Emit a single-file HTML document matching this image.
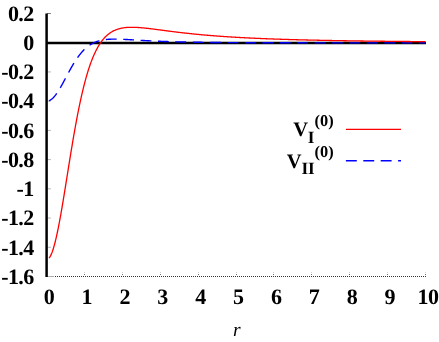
<!DOCTYPE html>
<html><head><meta charset="utf-8"><title>plot</title>
<style>
html,body{margin:0;padding:0;background:#fff;}
body{width:439px;height:342px;overflow:hidden;position:relative;font-family:"Liberation Serif",serif;}
svg{position:absolute;left:0;top:0;display:block;}
text{text-rendering:geometricPrecision;}
.tl{position:absolute;left:0;top:0;width:439px;height:342px;will-change:transform;filter:grayscale(1);}
text{font-family:"Liberation Serif",serif;fill:#000;}
.b{font-weight:bold;font-size:20.5px;}
.a{font-weight:bold;font-size:22px;letter-spacing:-0.6px;}
.s{font-weight:bold;font-size:17.2px;}
.p{font-weight:bold;font-size:16.4px;}
</style></head><body>
<svg width="439" height="342" viewBox="0 0 439 342" >
<rect x="0" y="0" width="439" height="342" fill="#fff"/>
<line x1="47" y1="276.5" x2="426" y2="276.5" stroke="#333" stroke-width="1" stroke-dasharray="1,1" shape-rendering="crispEdges"/>
<rect x="48" y="276" width="6" height="1" fill="#a8a8a8" shape-rendering="crispEdges"/>
<rect x="84" y="274" width="1" height="1" fill="#777" shape-rendering="crispEdges"/><rect x="84" y="272" width="1" height="1" fill="#d0d0d0" shape-rendering="crispEdges"/>
<rect x="122" y="274" width="1" height="1" fill="#777" shape-rendering="crispEdges"/><rect x="122" y="272" width="1" height="1" fill="#d0d0d0" shape-rendering="crispEdges"/>
<rect x="160" y="274" width="1" height="1" fill="#777" shape-rendering="crispEdges"/><rect x="160" y="272" width="1" height="1" fill="#d0d0d0" shape-rendering="crispEdges"/>
<rect x="198" y="274" width="1" height="1" fill="#777" shape-rendering="crispEdges"/><rect x="198" y="272" width="1" height="1" fill="#d0d0d0" shape-rendering="crispEdges"/>
<rect x="236" y="274" width="1" height="1" fill="#777" shape-rendering="crispEdges"/><rect x="236" y="272" width="1" height="1" fill="#d0d0d0" shape-rendering="crispEdges"/>
<rect x="273" y="274" width="1" height="1" fill="#777" shape-rendering="crispEdges"/><rect x="273" y="272" width="1" height="1" fill="#d0d0d0" shape-rendering="crispEdges"/>
<rect x="311" y="274" width="1" height="1" fill="#777" shape-rendering="crispEdges"/><rect x="311" y="272" width="1" height="1" fill="#d0d0d0" shape-rendering="crispEdges"/>
<rect x="349" y="274" width="1" height="1" fill="#777" shape-rendering="crispEdges"/><rect x="349" y="272" width="1" height="1" fill="#d0d0d0" shape-rendering="crispEdges"/>
<rect x="387" y="274" width="1" height="1" fill="#777" shape-rendering="crispEdges"/><rect x="387" y="272" width="1" height="1" fill="#d0d0d0" shape-rendering="crispEdges"/>
<rect x="425" y="274" width="1" height="1" fill="#777" shape-rendering="crispEdges"/><rect x="425" y="272" width="1" height="1" fill="#d0d0d0" shape-rendering="crispEdges"/>
<line x1="47" y1="13.50" x2="50.9" y2="13.50" stroke="#777" stroke-width="1"/>
<line x1="47" y1="42.72" x2="50.9" y2="42.72" stroke="#b4b4b4" stroke-width="1"/>
<line x1="47" y1="71.94" x2="50.9" y2="71.94" stroke="#b4b4b4" stroke-width="1"/>
<line x1="47" y1="101.16" x2="50.9" y2="101.16" stroke="#b4b4b4" stroke-width="1"/>
<line x1="47" y1="130.38" x2="50.9" y2="130.38" stroke="#b4b4b4" stroke-width="1"/>
<line x1="47" y1="159.60" x2="50.9" y2="159.60" stroke="#b4b4b4" stroke-width="1"/>
<line x1="47" y1="188.82" x2="50.9" y2="188.82" stroke="#b4b4b4" stroke-width="1"/>
<line x1="47" y1="218.04" x2="50.9" y2="218.04" stroke="#b4b4b4" stroke-width="1"/>
<line x1="47" y1="247.26" x2="50.9" y2="247.26" stroke="#b4b4b4" stroke-width="1"/>
<line x1="47" y1="276.48" x2="50.9" y2="276.48" stroke="#b4b4b4" stroke-width="1"/>
<line x1="46" y1="42.90" x2="426" y2="42.90" stroke="#000" stroke-width="2.5"/>
<line x1="46.6" y1="13.4" x2="46.6" y2="276.9" stroke="#000" stroke-width="2.5"/>
<path d="M48.97,100.68 L49.44,100.49 L49.91,100.26 L50.38,100.00 L50.86,99.70 L51.33,99.37 L51.80,99.00 L52.27,98.61 L52.74,98.18 L53.21,97.72 L53.68,97.23 L54.15,96.71 L54.62,96.17 L55.09,95.59 L55.56,94.99 L56.03,94.37 L56.50,93.72 L56.97,93.05 L57.44,92.35 L57.92,91.64 L58.39,90.90 L58.86,90.15 L59.33,89.38 L59.80,88.59 L60.27,87.79 L60.74,86.98 L61.21,86.15 L61.68,85.32 L62.15,84.47 L62.62,83.62 L63.09,82.75 L63.56,81.88 L64.03,81.01 L64.50,80.13 L64.98,79.25 L65.45,78.36 L65.92,77.48 L66.39,76.60 L66.86,75.71 L67.33,74.83 L67.80,73.95 L68.27,73.08 L68.74,72.21 L69.21,71.35 L69.68,70.49 L70.15,69.64 L70.62,68.79 L71.09,67.96 L71.56,67.13 L72.04,66.32 L72.51,65.51 L72.98,64.72 L73.45,63.93 L73.92,63.16 L74.39,62.40 L74.86,61.65 L75.33,60.92 L75.80,60.20 L76.27,59.49 L76.74,58.79 L77.21,58.11 L77.68,57.44 L78.15,56.79 L78.62,56.15 L79.09,55.52 L79.57,54.91 L80.04,54.32 L80.51,53.73 L80.98,53.17 L81.45,52.61 L81.92,52.07 L82.39,51.55 L82.86,51.04 L83.33,50.54 L83.80,50.06 L84.27,49.59 L84.74,49.14 L85.21,48.70 L85.68,48.27 L86.15,47.85 L86.63,47.45 L87.10,47.07 L87.57,46.69 L88.04,46.33 L88.51,45.98 L88.98,45.64 L89.45,45.31 L89.92,45.00 L90.39,44.69 L90.86,44.40 L91.33,44.12 L91.80,43.85 L92.27,43.59 L92.74,43.34 L93.21,43.10 L93.69,42.87 L94.16,42.65 L94.63,42.44 L95.10,42.23 L95.57,42.04 L96.04,41.85 L96.51,41.68 L96.98,41.51 L97.45,41.35 L97.92,41.19 L98.39,41.05 L98.86,40.91 L99.33,40.78 L99.80,40.65 L100.27,40.53 L100.75,40.42 L101.22,40.31 L101.69,40.21 L102.16,40.12 L102.63,40.03 L103.10,39.94 L103.57,39.86 L104.04,39.79 L104.51,39.72 L104.98,39.66 L105.45,39.60 L105.92,39.54 L106.39,39.49 L106.86,39.44 L107.33,39.40 L107.81,39.36 L108.28,39.32 L108.75,39.29 L109.22,39.26 L109.69,39.23 L110.16,39.20 L110.63,39.18 L111.10,39.16 L111.57,39.15 L112.04,39.14 L112.51,39.12 L112.98,39.12 L113.45,39.11 L113.92,39.11 L114.39,39.10 L114.87,39.10 L115.34,39.10 L115.81,39.11 L116.28,39.11 L116.75,39.12 L117.22,39.13 L117.69,39.14 L118.16,39.15 L118.63,39.16 L119.10,39.17 L119.57,39.19 L120.04,39.20 L120.51,39.22 L120.98,39.24 L121.45,39.25 L121.92,39.27 L122.40,39.29 L122.87,39.31 L123.34,39.34 L123.81,39.36 L124.28,39.38 L124.75,39.40 L125.22,39.43 L125.69,39.45 L126.16,39.48 L126.63,39.50 L127.10,39.53 L127.57,39.55 L128.04,39.58 L128.51,39.61 L128.98,39.64 L129.46,39.66 L129.93,39.69 L130.40,39.72 L130.87,39.75 L131.34,39.77 L131.81,39.80 L132.28,39.83 L132.75,39.86 L133.22,39.89 L133.69,39.91 L134.16,39.94 L134.63,39.97 L135.10,40.00 L135.57,40.03 L136.04,40.06 L136.52,40.09 L136.99,40.11 L137.46,40.14 L137.93,40.17 L138.40,40.20 L138.87,40.23 L139.34,40.25 L139.81,40.28 L140.28,40.31 L140.75,40.34 L141.22,40.36 L141.69,40.39 L142.16,40.42 L142.63,40.44 L143.10,40.47 L143.58,40.50 L144.05,40.52 L144.52,40.55 L144.99,40.58 L145.46,40.60 L145.93,40.63 L146.40,40.65 L146.87,40.68 L147.34,40.70 L147.81,40.73 L148.28,40.75 L148.75,40.78 L149.22,40.80 L149.69,40.83 L150.16,40.85 L150.64,40.87 L151.11,40.90 L151.58,40.92 L152.05,40.94 L152.52,40.96 L152.99,40.99 L153.46,41.01 L153.93,41.03 L154.40,41.05 L154.87,41.07 L155.34,41.10 L155.81,41.12 L156.28,41.14 L156.75,41.16 L157.22,41.18 L157.70,41.20 L158.17,41.22 L158.64,41.24 L159.11,41.26 L159.58,41.28 L160.05,41.30 L160.52,41.31 L160.99,41.33 L161.46,41.35 L161.93,41.37 L162.40,41.39 L162.87,41.41 L163.34,41.42 L163.81,41.44 L164.28,41.46 L164.75,41.47 L165.23,41.49 L165.70,41.51 L166.17,41.52 L166.64,41.54 L167.11,41.56 L167.58,41.57 L168.05,41.59 L168.52,41.60 L168.99,41.62 L169.46,41.63 L169.93,41.65 L170.40,41.66 L170.87,41.68 L171.34,41.69 L171.81,41.71 L172.29,41.72 L172.76,41.73 L173.23,41.75 L173.70,41.76 L174.17,41.78 L174.64,41.79 L175.11,41.80 L175.58,41.81 L176.05,41.83 L176.52,41.84 L176.99,41.85 L177.46,41.86 L177.93,41.88 L178.40,41.89 L178.87,41.90 L179.35,41.91 L179.82,41.92 L180.29,41.93 L180.76,41.95 L181.23,41.96 L181.70,41.97 L182.17,41.98 L182.64,41.99 L183.11,42.00 L183.58,42.01 L184.05,42.02 L184.52,42.03 L184.99,42.04 L185.46,42.05 L185.93,42.06 L186.41,42.07 L186.88,42.08 L187.35,42.09 L187.82,42.10 L188.29,42.11 L188.76,42.12 L189.23,42.13 L189.70,42.13 L190.17,42.14 L190.64,42.15 L191.11,42.16 L191.58,42.17 L192.05,42.18 L192.52,42.18 L192.99,42.19 L193.47,42.20 L193.94,42.21 L194.41,42.22 L194.88,42.22 L195.35,42.23 L195.82,42.24 L196.29,42.25 L196.76,42.25 L197.23,42.26 L197.70,42.27 L198.17,42.27 L198.64,42.28 L199.11,42.29 L199.58,42.30 L200.05,42.30 L200.52,42.31 L201.00,42.32 L201.47,42.32 L201.94,42.33 L202.41,42.33 L202.88,42.34 L203.35,42.35 L203.82,42.35 L204.29,42.36 L204.76,42.36 L205.23,42.37 L205.70,42.38 L206.17,42.38 L206.64,42.39 L207.11,42.39 L207.58,42.40 L208.06,42.40 L208.53,42.41 L209.00,42.41 L209.47,42.42 L209.94,42.42 L210.41,42.43 L210.88,42.43 L211.35,42.44 L211.82,42.44 L212.29,42.45 L212.76,42.45 L213.23,42.46 L213.70,42.46 L214.17,42.47 L214.64,42.47 L215.12,42.48 L215.59,42.48 L216.06,42.49 L216.53,42.49 L217.00,42.49 L217.47,42.50 L217.94,42.50 L218.41,42.51 L218.88,42.51 L219.35,42.52 L219.82,42.52 L220.29,42.52 L220.76,42.53 L221.23,42.53 L221.70,42.54 L222.18,42.54 L222.65,42.54 L223.12,42.55 L223.59,42.55 L224.06,42.55 L224.53,42.56 L225.00,42.56 L225.47,42.56 L225.94,42.57 L226.41,42.57 L226.88,42.57 L227.35,42.58 L227.82,42.58 L228.29,42.58 L228.76,42.59 L229.24,42.59 L229.71,42.59 L230.18,42.60 L230.65,42.60 L231.12,42.60 L231.59,42.61 L232.06,42.61 L232.53,42.61 L233.00,42.61 L233.47,42.62 L233.94,42.62 L234.41,42.62 L234.88,42.63 L235.35,42.63 L235.82,42.63 L236.30,42.63 L236.77,42.64 L237.24,42.64 L237.71,42.64 L238.18,42.64 L238.65,42.65 L239.12,42.65 L239.59,42.65 L240.06,42.65 L240.53,42.66 L241.00,42.66 L241.47,42.66 L241.94,42.66 L242.41,42.66 L242.88,42.67 L243.35,42.67 L243.83,42.67 L244.30,42.67 L244.77,42.68 L245.24,42.68 L245.71,42.68 L246.18,42.68 L246.65,42.68 L247.12,42.69 L247.59,42.69 L248.06,42.69 L248.53,42.69 L249.00,42.69 L249.47,42.70 L249.94,42.70 L250.41,42.70 L250.89,42.70 L251.36,42.70 L251.83,42.71 L252.30,42.71 L252.77,42.71 L253.24,42.71 L253.71,42.71 L254.18,42.71 L254.65,42.72 L255.12,42.72 L255.59,42.72 L256.06,42.72 L256.53,42.72 L257.00,42.72 L257.47,42.73 L257.95,42.73 L258.42,42.73 L258.89,42.73 L259.36,42.73 L259.83,42.73 L260.30,42.74 L260.77,42.74 L261.24,42.74 L261.71,42.74 L262.18,42.74 L262.65,42.74 L263.12,42.74 L263.59,42.75 L264.06,42.75 L264.53,42.75 L265.01,42.75 L265.48,42.75 L265.95,42.75 L266.42,42.75 L266.89,42.75 L267.36,42.76 L267.83,42.76 L268.30,42.76 L268.77,42.76 L269.24,42.76 L269.71,42.76 L270.18,42.76 L270.65,42.76 L271.12,42.77 L271.59,42.77 L272.07,42.77 L272.54,42.77 L273.01,42.77 L273.48,42.77 L273.95,42.77 L274.42,42.77 L274.89,42.77 L275.36,42.78 L275.83,42.78 L276.30,42.78 L276.77,42.78 L277.24,42.78 L277.71,42.78 L278.18,42.78 L278.65,42.78 L279.13,42.78 L279.60,42.78 L280.07,42.79 L280.54,42.79 L281.01,42.79 L281.48,42.79 L281.95,42.79 L282.42,42.79 L282.89,42.79 L283.36,42.79 L283.83,42.79 L284.30,42.79 L284.77,42.80 L285.24,42.80 L285.71,42.80 L286.18,42.80 L286.66,42.80 L287.13,42.80 L287.60,42.80 L288.07,42.80 L288.54,42.80 L289.01,42.80 L289.48,42.80 L289.95,42.80 L290.42,42.81 L290.89,42.81 L291.36,42.81 L291.83,42.81 L292.30,42.81 L292.77,42.81 L293.24,42.81 L293.72,42.81 L294.19,42.81 L294.66,42.81 L295.13,42.81 L295.60,42.81 L296.07,42.81 L296.54,42.81 L297.01,42.82 L297.48,42.82 L297.95,42.82 L298.42,42.82 L298.89,42.82 L299.36,42.82 L299.83,42.82 L300.30,42.82 L300.78,42.82 L301.25,42.82 L301.72,42.82 L302.19,42.82 L302.66,42.82 L303.13,42.82 L303.60,42.82 L304.07,42.82 L304.54,42.83 L305.01,42.83 L305.48,42.83 L305.95,42.83 L306.42,42.83 L306.89,42.83 L307.36,42.83 L307.84,42.83 L308.31,42.83 L308.78,42.83 L309.25,42.83 L309.72,42.83 L310.19,42.83 L310.66,42.83 L311.13,42.83 L311.60,42.83 L312.07,42.83 L312.54,42.83 L313.01,42.83 L313.48,42.84 L313.95,42.84 L314.42,42.84 L314.90,42.84 L315.37,42.84 L315.84,42.84 L316.31,42.84 L316.78,42.84 L317.25,42.84 L317.72,42.84 L318.19,42.84 L318.66,42.84 L319.13,42.84 L319.60,42.84 L320.07,42.84 L320.54,42.84 L321.01,42.84 L321.48,42.84 L321.96,42.84 L322.43,42.84 L322.90,42.84 L323.37,42.84 L323.84,42.85 L324.31,42.85 L324.78,42.85 L325.25,42.85 L325.72,42.85 L326.19,42.85 L326.66,42.85 L327.13,42.85 L327.60,42.85 L328.07,42.85 L328.54,42.85 L329.01,42.85 L329.49,42.85 L329.96,42.85 L330.43,42.85 L330.90,42.85 L331.37,42.85 L331.84,42.85 L332.31,42.85 L332.78,42.85 L333.25,42.85 L333.72,42.85 L334.19,42.85 L334.66,42.85 L335.13,42.85 L335.60,42.85 L336.07,42.85 L336.55,42.85 L337.02,42.86 L337.49,42.86 L337.96,42.86 L338.43,42.86 L338.90,42.86 L339.37,42.86 L339.84,42.86 L340.31,42.86 L340.78,42.86 L341.25,42.86 L341.72,42.86 L342.19,42.86 L342.66,42.86 L343.13,42.86 L343.61,42.86 L344.08,42.86 L344.55,42.86 L345.02,42.86 L345.49,42.86 L345.96,42.86 L346.43,42.86 L346.90,42.86 L347.37,42.86 L347.84,42.86 L348.31,42.86 L348.78,42.86 L349.25,42.86 L349.72,42.86 L350.19,42.86 L350.67,42.86 L351.14,42.86 L351.61,42.86 L352.08,42.86 L352.55,42.86 L353.02,42.86 L353.49,42.86 L353.96,42.87 L354.43,42.87 L354.90,42.87 L355.37,42.87 L355.84,42.87 L356.31,42.87 L356.78,42.87 L357.25,42.87 L357.73,42.87 L358.20,42.87 L358.67,42.87 L359.14,42.87 L359.61,42.87 L360.08,42.87 L360.55,42.87 L361.02,42.87 L361.49,42.87 L361.96,42.87 L362.43,42.87 L362.90,42.87 L363.37,42.87 L363.84,42.87 L364.31,42.87 L364.78,42.87 L365.26,42.87 L365.73,42.87 L366.20,42.87 L366.67,42.87 L367.14,42.87 L367.61,42.87 L368.08,42.87 L368.55,42.87 L369.02,42.87 L369.49,42.87 L369.96,42.87 L370.43,42.87 L370.90,42.87 L371.37,42.87 L371.84,42.87 L372.32,42.87 L372.79,42.87 L373.26,42.87 L373.73,42.87 L374.20,42.87 L374.67,42.87 L375.14,42.87 L375.61,42.87 L376.08,42.87 L376.55,42.87 L377.02,42.87 L377.49,42.87 L377.96,42.88 L378.43,42.88 L378.90,42.88 L379.38,42.88 L379.85,42.88 L380.32,42.88 L380.79,42.88 L381.26,42.88 L381.73,42.88 L382.20,42.88 L382.67,42.88 L383.14,42.88 L383.61,42.88 L384.08,42.88 L384.55,42.88 L385.02,42.88 L385.49,42.88 L385.96,42.88 L386.44,42.88 L386.91,42.88 L387.38,42.88 L387.85,42.88 L388.32,42.88 L388.79,42.88 L389.26,42.88 L389.73,42.88 L390.20,42.88 L390.67,42.88 L391.14,42.88 L391.61,42.88 L392.08,42.88 L392.55,42.88 L393.02,42.88 L393.50,42.88 L393.97,42.88 L394.44,42.88 L394.91,42.88 L395.38,42.88 L395.85,42.88 L396.32,42.88 L396.79,42.88 L397.26,42.88 L397.73,42.88 L398.20,42.88 L398.67,42.88 L399.14,42.88 L399.61,42.88 L400.08,42.88 L400.56,42.88 L401.03,42.88 L401.50,42.88 L401.97,42.88 L402.44,42.88 L402.91,42.88 L403.38,42.88 L403.85,42.88 L404.32,42.88 L404.79,42.88 L405.26,42.88 L405.73,42.88 L406.20,42.88 L406.67,42.88 L407.14,42.88 L407.61,42.88 L408.09,42.88 L408.56,42.88 L409.03,42.88 L409.50,42.88 L409.97,42.88 L410.44,42.88 L410.91,42.88 L411.38,42.88 L411.85,42.88 L412.32,42.88 L412.79,42.88 L413.26,42.88 L413.73,42.88 L414.20,42.88 L414.67,42.88 L415.15,42.88 L415.62,42.88 L416.09,42.88 L416.56,42.88 L417.03,42.88 L417.50,42.88 L417.97,42.88 L418.44,42.89 L418.91,42.89 L419.38,42.89 L419.85,42.89 L420.32,42.89 L420.79,42.89 L421.26,42.89 L421.73,42.89 L422.21,42.89 L422.68,42.89 L423.15,42.89 L423.62,42.89 L424.09,42.89 L424.56,42.89 L425.03,42.89 L425.50,42.89" fill="none" stroke="#00f" stroke-width="1.4" stroke-dasharray="10.8,6.6"/>
<path d="M48.97,258.22 L49.44,257.62 L49.91,256.91 L50.38,256.09 L50.86,255.16 L51.33,254.13 L51.80,252.99 L52.27,251.75 L52.74,250.41 L53.21,248.97 L53.68,247.43 L54.15,245.80 L54.62,244.08 L55.09,242.27 L55.56,240.38 L56.03,238.40 L56.50,236.34 L56.97,234.21 L57.44,232.00 L57.92,229.72 L58.39,227.38 L58.86,224.97 L59.33,222.50 L59.80,219.98 L60.27,217.40 L60.74,214.77 L61.21,212.10 L61.68,209.39 L62.15,206.64 L62.62,203.85 L63.09,201.03 L63.56,198.18 L64.03,195.31 L64.50,192.42 L64.98,189.51 L65.45,186.58 L65.92,183.65 L66.39,180.70 L66.86,177.75 L67.33,174.80 L67.80,171.85 L68.27,168.91 L68.74,165.96 L69.21,163.03 L69.68,160.11 L70.15,157.21 L70.62,154.32 L71.09,151.45 L71.56,148.60 L72.04,145.77 L72.51,142.97 L72.98,140.19 L73.45,137.44 L73.92,134.73 L74.39,132.04 L74.86,129.38 L75.33,126.76 L75.80,124.18 L76.27,121.63 L76.74,119.11 L77.21,116.64 L77.68,114.20 L78.15,111.80 L78.62,109.45 L79.09,107.13 L79.57,104.86 L80.04,102.62 L80.51,100.43 L80.98,98.28 L81.45,96.17 L81.92,94.10 L82.39,92.08 L82.86,90.10 L83.33,88.16 L83.80,86.26 L84.27,84.41 L84.74,82.59 L85.21,80.82 L85.68,79.09 L86.15,77.40 L86.63,75.75 L87.10,74.14 L87.57,72.57 L88.04,71.04 L88.51,69.55 L88.98,68.09 L89.45,66.68 L89.92,65.30 L90.39,63.96 L90.86,62.65 L91.33,61.38 L91.80,60.15 L92.27,58.95 L92.74,57.78 L93.21,56.65 L93.69,55.55 L94.16,54.48 L94.63,53.44 L95.10,52.43 L95.57,51.46 L96.04,50.51 L96.51,49.59 L96.98,48.70 L97.45,47.84 L97.92,47.00 L98.39,46.19 L98.86,45.41 L99.33,44.65 L99.80,43.91 L100.27,43.20 L100.75,42.52 L101.22,41.85 L101.69,41.21 L102.16,40.59 L102.63,39.99 L103.10,39.41 L103.57,38.86 L104.04,38.32 L104.51,37.80 L104.98,37.30 L105.45,36.81 L105.92,36.35 L106.39,35.90 L106.86,35.47 L107.33,35.05 L107.81,34.65 L108.28,34.27 L108.75,33.90 L109.22,33.54 L109.69,33.20 L110.16,32.87 L110.63,32.56 L111.10,32.26 L111.57,31.97 L112.04,31.69 L112.51,31.42 L112.98,31.17 L113.45,30.93 L113.92,30.70 L114.39,30.47 L114.87,30.26 L115.34,30.06 L115.81,29.87 L116.28,29.68 L116.75,29.51 L117.22,29.34 L117.69,29.19 L118.16,29.04 L118.63,28.90 L119.10,28.76 L119.57,28.64 L120.04,28.52 L120.51,28.40 L120.98,28.30 L121.45,28.20 L121.92,28.10 L122.40,28.02 L122.87,27.94 L123.34,27.86 L123.81,27.79 L124.28,27.73 L124.75,27.67 L125.22,27.61 L125.69,27.56 L126.16,27.52 L126.63,27.47 L127.10,27.44 L127.57,27.41 L128.04,27.38 L128.51,27.35 L128.98,27.33 L129.46,27.31 L129.93,27.30 L130.40,27.29 L130.87,27.28 L131.34,27.28 L131.81,27.28 L132.28,27.28 L132.75,27.28 L133.22,27.29 L133.69,27.30 L134.16,27.31 L134.63,27.33 L135.10,27.34 L135.57,27.36 L136.04,27.38 L136.52,27.41 L136.99,27.43 L137.46,27.46 L137.93,27.49 L138.40,27.52 L138.87,27.55 L139.34,27.59 L139.81,27.62 L140.28,27.66 L140.75,27.70 L141.22,27.74 L141.69,27.78 L142.16,27.82 L142.63,27.87 L143.10,27.91 L143.58,27.96 L144.05,28.00 L144.52,28.05 L144.99,28.10 L145.46,28.15 L145.93,28.20 L146.40,28.25 L146.87,28.31 L147.34,28.36 L147.81,28.41 L148.28,28.47 L148.75,28.52 L149.22,28.58 L149.69,28.63 L150.16,28.69 L150.64,28.75 L151.11,28.80 L151.58,28.86 L152.05,28.92 L152.52,28.98 L152.99,29.04 L153.46,29.10 L153.93,29.16 L154.40,29.22 L154.87,29.28 L155.34,29.34 L155.81,29.40 L156.28,29.46 L156.75,29.52 L157.22,29.58 L157.70,29.64 L158.17,29.71 L158.64,29.77 L159.11,29.83 L159.58,29.89 L160.05,29.95 L160.52,30.01 L160.99,30.08 L161.46,30.14 L161.93,30.20 L162.40,30.26 L162.87,30.32 L163.34,30.39 L163.81,30.45 L164.28,30.51 L164.75,30.57 L165.23,30.63 L165.70,30.69 L166.17,30.76 L166.64,30.82 L167.11,30.88 L167.58,30.94 L168.05,31.00 L168.52,31.06 L168.99,31.12 L169.46,31.18 L169.93,31.24 L170.40,31.30 L170.87,31.36 L171.34,31.42 L171.81,31.48 L172.29,31.54 L172.76,31.60 L173.23,31.66 L173.70,31.72 L174.17,31.78 L174.64,31.83 L175.11,31.89 L175.58,31.95 L176.05,32.01 L176.52,32.07 L176.99,32.12 L177.46,32.18 L177.93,32.24 L178.40,32.29 L178.87,32.35 L179.35,32.40 L179.82,32.46 L180.29,32.52 L180.76,32.57 L181.23,32.63 L181.70,32.68 L182.17,32.73 L182.64,32.79 L183.11,32.84 L183.58,32.90 L184.05,32.95 L184.52,33.00 L184.99,33.06 L185.46,33.11 L185.93,33.16 L186.41,33.21 L186.88,33.26 L187.35,33.32 L187.82,33.37 L188.29,33.42 L188.76,33.47 L189.23,33.52 L189.70,33.57 L190.17,33.62 L190.64,33.67 L191.11,33.72 L191.58,33.77 L192.05,33.82 L192.52,33.86 L192.99,33.91 L193.47,33.96 L193.94,34.01 L194.41,34.06 L194.88,34.10 L195.35,34.15 L195.82,34.20 L196.29,34.24 L196.76,34.29 L197.23,34.33 L197.70,34.38 L198.17,34.42 L198.64,34.47 L199.11,34.51 L199.58,34.56 L200.05,34.60 L200.52,34.65 L201.00,34.69 L201.47,34.73 L201.94,34.78 L202.41,34.82 L202.88,34.86 L203.35,34.90 L203.82,34.95 L204.29,34.99 L204.76,35.03 L205.23,35.07 L205.70,35.11 L206.17,35.15 L206.64,35.19 L207.11,35.23 L207.58,35.27 L208.06,35.31 L208.53,35.35 L209.00,35.39 L209.47,35.43 L209.94,35.47 L210.41,35.51 L210.88,35.55 L211.35,35.59 L211.82,35.62 L212.29,35.66 L212.76,35.70 L213.23,35.74 L213.70,35.77 L214.17,35.81 L214.64,35.85 L215.12,35.88 L215.59,35.92 L216.06,35.95 L216.53,35.99 L217.00,36.03 L217.47,36.06 L217.94,36.10 L218.41,36.13 L218.88,36.17 L219.35,36.20 L219.82,36.23 L220.29,36.27 L220.76,36.30 L221.23,36.33 L221.70,36.37 L222.18,36.40 L222.65,36.43 L223.12,36.47 L223.59,36.50 L224.06,36.53 L224.53,36.56 L225.00,36.59 L225.47,36.63 L225.94,36.66 L226.41,36.69 L226.88,36.72 L227.35,36.75 L227.82,36.78 L228.29,36.81 L228.76,36.84 L229.24,36.87 L229.71,36.90 L230.18,36.93 L230.65,36.96 L231.12,36.99 L231.59,37.02 L232.06,37.05 L232.53,37.08 L233.00,37.11 L233.47,37.13 L233.94,37.16 L234.41,37.19 L234.88,37.22 L235.35,37.25 L235.82,37.27 L236.30,37.30 L236.77,37.33 L237.24,37.36 L237.71,37.38 L238.18,37.41 L238.65,37.44 L239.12,37.46 L239.59,37.49 L240.06,37.51 L240.53,37.54 L241.00,37.57 L241.47,37.59 L241.94,37.62 L242.41,37.64 L242.88,37.67 L243.35,37.69 L243.83,37.72 L244.30,37.74 L244.77,37.77 L245.24,37.79 L245.71,37.81 L246.18,37.84 L246.65,37.86 L247.12,37.89 L247.59,37.91 L248.06,37.93 L248.53,37.96 L249.00,37.98 L249.47,38.00 L249.94,38.02 L250.41,38.05 L250.89,38.07 L251.36,38.09 L251.83,38.11 L252.30,38.14 L252.77,38.16 L253.24,38.18 L253.71,38.20 L254.18,38.22 L254.65,38.25 L255.12,38.27 L255.59,38.29 L256.06,38.31 L256.53,38.33 L257.00,38.35 L257.47,38.37 L257.95,38.39 L258.42,38.41 L258.89,38.43 L259.36,38.45 L259.83,38.47 L260.30,38.49 L260.77,38.51 L261.24,38.53 L261.71,38.55 L262.18,38.57 L262.65,38.59 L263.12,38.61 L263.59,38.63 L264.06,38.65 L264.53,38.67 L265.01,38.69 L265.48,38.71 L265.95,38.73 L266.42,38.74 L266.89,38.76 L267.36,38.78 L267.83,38.80 L268.30,38.82 L268.77,38.83 L269.24,38.85 L269.71,38.87 L270.18,38.89 L270.65,38.91 L271.12,38.92 L271.59,38.94 L272.07,38.96 L272.54,38.97 L273.01,38.99 L273.48,39.01 L273.95,39.03 L274.42,39.04 L274.89,39.06 L275.36,39.08 L275.83,39.09 L276.30,39.11 L276.77,39.12 L277.24,39.14 L277.71,39.16 L278.18,39.17 L278.65,39.19 L279.13,39.21 L279.60,39.22 L280.07,39.24 L280.54,39.25 L281.01,39.27 L281.48,39.28 L281.95,39.30 L282.42,39.31 L282.89,39.33 L283.36,39.34 L283.83,39.36 L284.30,39.37 L284.77,39.39 L285.24,39.40 L285.71,39.42 L286.18,39.43 L286.66,39.45 L287.13,39.46 L287.60,39.47 L288.07,39.49 L288.54,39.50 L289.01,39.52 L289.48,39.53 L289.95,39.55 L290.42,39.56 L290.89,39.57 L291.36,39.59 L291.83,39.60 L292.30,39.61 L292.77,39.63 L293.24,39.64 L293.72,39.65 L294.19,39.67 L294.66,39.68 L295.13,39.69 L295.60,39.71 L296.07,39.72 L296.54,39.73 L297.01,39.74 L297.48,39.76 L297.95,39.77 L298.42,39.78 L298.89,39.80 L299.36,39.81 L299.83,39.82 L300.30,39.83 L300.78,39.84 L301.25,39.86 L301.72,39.87 L302.19,39.88 L302.66,39.89 L303.13,39.90 L303.60,39.92 L304.07,39.93 L304.54,39.94 L305.01,39.95 L305.48,39.96 L305.95,39.97 L306.42,39.99 L306.89,40.00 L307.36,40.01 L307.84,40.02 L308.31,40.03 L308.78,40.04 L309.25,40.05 L309.72,40.06 L310.19,40.08 L310.66,40.09 L311.13,40.10 L311.60,40.11 L312.07,40.12 L312.54,40.13 L313.01,40.14 L313.48,40.15 L313.95,40.16 L314.42,40.17 L314.90,40.18 L315.37,40.19 L315.84,40.20 L316.31,40.21 L316.78,40.22 L317.25,40.23 L317.72,40.24 L318.19,40.25 L318.66,40.26 L319.13,40.27 L319.60,40.28 L320.07,40.29 L320.54,40.30 L321.01,40.31 L321.48,40.32 L321.96,40.33 L322.43,40.34 L322.90,40.35 L323.37,40.36 L323.84,40.37 L324.31,40.38 L324.78,40.39 L325.25,40.40 L325.72,40.41 L326.19,40.42 L326.66,40.43 L327.13,40.44 L327.60,40.44 L328.07,40.45 L328.54,40.46 L329.01,40.47 L329.49,40.48 L329.96,40.49 L330.43,40.50 L330.90,40.51 L331.37,40.52 L331.84,40.52 L332.31,40.53 L332.78,40.54 L333.25,40.55 L333.72,40.56 L334.19,40.57 L334.66,40.58 L335.13,40.58 L335.60,40.59 L336.07,40.60 L336.55,40.61 L337.02,40.62 L337.49,40.63 L337.96,40.63 L338.43,40.64 L338.90,40.65 L339.37,40.66 L339.84,40.67 L340.31,40.67 L340.78,40.68 L341.25,40.69 L341.72,40.70 L342.19,40.70 L342.66,40.71 L343.13,40.72 L343.61,40.73 L344.08,40.74 L344.55,40.74 L345.02,40.75 L345.49,40.76 L345.96,40.77 L346.43,40.77 L346.90,40.78 L347.37,40.79 L347.84,40.80 L348.31,40.80 L348.78,40.81 L349.25,40.82 L349.72,40.82 L350.19,40.83 L350.67,40.84 L351.14,40.85 L351.61,40.85 L352.08,40.86 L352.55,40.87 L353.02,40.87 L353.49,40.88 L353.96,40.89 L354.43,40.89 L354.90,40.90 L355.37,40.91 L355.84,40.91 L356.31,40.92 L356.78,40.93 L357.25,40.94 L357.73,40.94 L358.20,40.95 L358.67,40.95 L359.14,40.96 L359.61,40.97 L360.08,40.97 L360.55,40.98 L361.02,40.99 L361.49,40.99 L361.96,41.00 L362.43,41.01 L362.90,41.01 L363.37,41.02 L363.84,41.03 L364.31,41.03 L364.78,41.04 L365.26,41.04 L365.73,41.05 L366.20,41.06 L366.67,41.06 L367.14,41.07 L367.61,41.07 L368.08,41.08 L368.55,41.09 L369.02,41.09 L369.49,41.10 L369.96,41.10 L370.43,41.11 L370.90,41.12 L371.37,41.12 L371.84,41.13 L372.32,41.13 L372.79,41.14 L373.26,41.14 L373.73,41.15 L374.20,41.16 L374.67,41.16 L375.14,41.17 L375.61,41.17 L376.08,41.18 L376.55,41.18 L377.02,41.19 L377.49,41.19 L377.96,41.20 L378.43,41.21 L378.90,41.21 L379.38,41.22 L379.85,41.22 L380.32,41.23 L380.79,41.23 L381.26,41.24 L381.73,41.24 L382.20,41.25 L382.67,41.25 L383.14,41.26 L383.61,41.26 L384.08,41.27 L384.55,41.27 L385.02,41.28 L385.49,41.28 L385.96,41.29 L386.44,41.29 L386.91,41.30 L387.38,41.30 L387.85,41.31 L388.32,41.31 L388.79,41.32 L389.26,41.32 L389.73,41.33 L390.20,41.33 L390.67,41.34 L391.14,41.34 L391.61,41.35 L392.08,41.35 L392.55,41.36 L393.02,41.36 L393.50,41.37 L393.97,41.37 L394.44,41.38 L394.91,41.38 L395.38,41.39 L395.85,41.39 L396.32,41.40 L396.79,41.40 L397.26,41.40 L397.73,41.41 L398.20,41.41 L398.67,41.42 L399.14,41.42 L399.61,41.43 L400.08,41.43 L400.56,41.44 L401.03,41.44 L401.50,41.45 L401.97,41.45 L402.44,41.45 L402.91,41.46 L403.38,41.46 L403.85,41.47 L404.32,41.47 L404.79,41.48 L405.26,41.48 L405.73,41.48 L406.20,41.49 L406.67,41.49 L407.14,41.50 L407.61,41.50 L408.09,41.50 L408.56,41.51 L409.03,41.51 L409.50,41.52 L409.97,41.52 L410.44,41.53 L410.91,41.53 L411.38,41.53 L411.85,41.54 L412.32,41.54 L412.79,41.55 L413.26,41.55 L413.73,41.55 L414.20,41.56 L414.67,41.56 L415.15,41.57 L415.62,41.57 L416.09,41.57 L416.56,41.58 L417.03,41.58 L417.50,41.58 L417.97,41.59 L418.44,41.59 L418.91,41.60 L419.38,41.60 L419.85,41.60 L420.32,41.61 L420.79,41.61 L421.26,41.61 L421.73,41.62 L422.21,41.62 L422.68,41.63 L423.15,41.63 L423.62,41.63 L424.09,41.64 L424.56,41.64 L425.03,41.64 L425.50,41.65" fill="none" stroke="#f00" stroke-width="1.3"/>
<line x1="345.9" y1="129.35" x2="401" y2="129.35" stroke="#f00" stroke-width="1.3"/>
<line x1="345.9" y1="160.7" x2="401" y2="160.7" stroke="#00f" stroke-width="1.4" stroke-dasharray="10.9,6.5"/>
</svg>
<div class="tl"><svg width="439" height="342" viewBox="0 0 439 342">
<text class="a" x="33.6" y="20.62" text-anchor="end">0.2</text>
<text class="a" x="33.6" y="49.88" text-anchor="end">0</text>
<text class="a" x="33.6" y="79.15" text-anchor="end">-0.2</text>
<text class="a" x="33.6" y="108.42" text-anchor="end">-0.4</text>
<text class="a" x="33.6" y="137.68" text-anchor="end">-0.6</text>
<text class="a" x="33.6" y="166.95" text-anchor="end">-0.8</text>
<text class="a" x="33.6" y="196.21" text-anchor="end">-1</text>
<text class="a" x="33.6" y="225.48" text-anchor="end">-1.2</text>
<text class="a" x="33.6" y="254.74" text-anchor="end">-1.4</text>
<text class="a" x="33.6" y="284.00" text-anchor="end">-1.6</text>
<text class="a" x="48.85" y="304.45" text-anchor="middle">0</text>
<text class="a" x="86.73" y="304.45" text-anchor="middle">1</text>
<text class="a" x="124.61" y="304.45" text-anchor="middle">2</text>
<text class="a" x="162.49" y="304.45" text-anchor="middle">3</text>
<text class="a" x="200.37" y="304.45" text-anchor="middle">4</text>
<text class="a" x="238.25" y="304.45" text-anchor="middle">5</text>
<text class="a" x="276.13" y="304.45" text-anchor="middle">6</text>
<text class="a" x="314.01" y="304.45" text-anchor="middle">7</text>
<text class="a" x="351.89" y="304.45" text-anchor="middle">8</text>
<text class="a" x="389.77" y="304.45" text-anchor="middle">9</text>
<text class="a" x="428.00" y="304.45" text-anchor="middle">10</text>
<text x="232.9" y="335.5" font-style="italic" font-size="19.5">r</text>
<text class="b" x="293.2" y="136.3">V</text><text class="s" x="307.7" y="142.6">I</text><text class="p" x="314.6" y="126.2">(0)</text>
<text class="b" x="286.7" y="167.5">V</text><text class="s" x="301.4" y="173.8">II</text><text class="p" x="314.6" y="157.3">(0)</text>
</svg></div></body></html>
